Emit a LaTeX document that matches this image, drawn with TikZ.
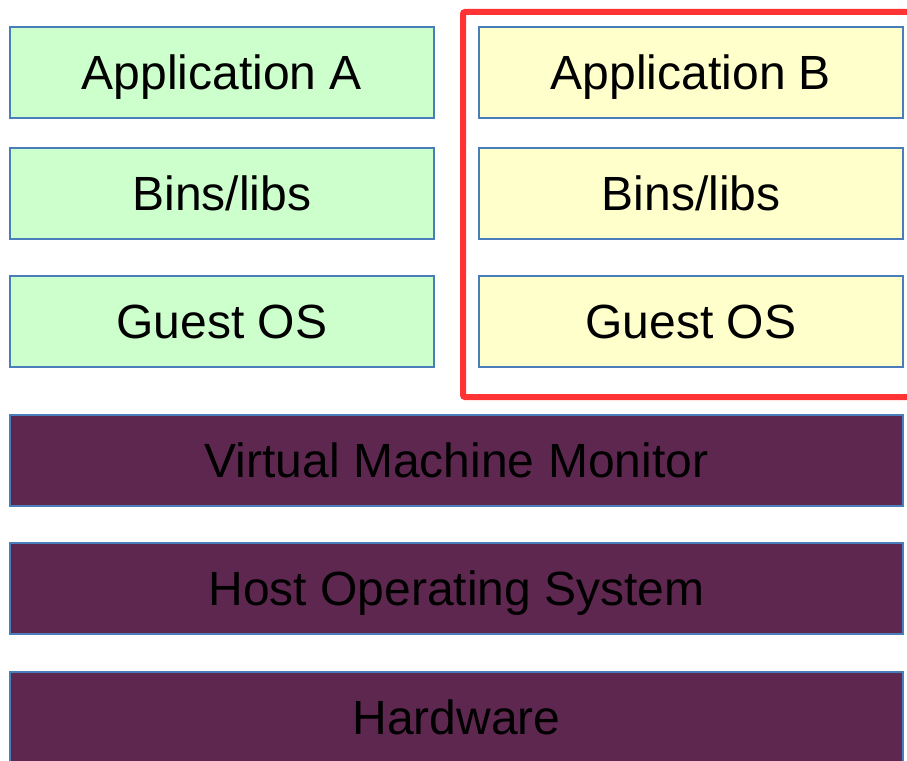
\documentclass[tikz,border=0pt]{standalone}
\usepackage{fontspec}
\setmainfont{Liberation Sans}
\definecolor{boxline}{HTML}{4A7EBB}
\definecolor{greenfill}{HTML}{CCFFCC}
\definecolor{yellowfill}{HTML}{FFFFCC}
\definecolor{purplefill}{HTML}{5E2750}
\definecolor{redline}{HTML}{FF3333}
\tikzset{
  lbl/.style={font=\fontsize{48}{54}\selectfont, text=black, text height=34pt, text depth=0pt},
  layer/.style={lbl, draw=boxline, line width=1.3pt, inner sep=0pt, outer sep=0pt},
  gbox/.style={layer, fill=greenfill, minimum width=424pt, minimum height=91pt},
  ybox/.style={layer, fill=yellowfill, minimum width=424pt, minimum height=91pt},
  pbox/.style={layer, fill=purplefill, minimum width=893pt, minimum height=91pt},
}
\begin{document}
\begin{tikzpicture}[x=1pt,y=-1pt]
\useasboundingbox[fill=white] (0,0) rectangle (907,760);
% red frame
\draw[redline, line width=6pt, rounded corners=2pt] (915,12) -- (463,12) -- (463,397) -- (915,397);
% column A
\node[gbox] (appA) at (222,72.5) {Application A};
\node[gbox] (binsA) at (222,193.5) {Bins/libs};
\node[gbox] (osA) at (222,321.5) {Guest OS};
% column B
\node[ybox] (appB) at (691,72.5) {Application B};
\node[ybox] (binsB) at (691,193.5) {Bins/libs};
\node[ybox] (osB) at (691,321.5) {Guest OS};
% shared layers
\node[pbox] (vmm) at (456.5,460.5) {Virtual Machine Monitor};
\node[pbox] (host) at (456.5,588.5) {Host Operating System};
\node[pbox, minimum height=94pt, anchor=north] (hw) at (456.5,672) {};
\node[lbl, inner sep=0pt] (hwtext) at (456.5,717.5) {Hardware};
\end{tikzpicture}
\end{document}
